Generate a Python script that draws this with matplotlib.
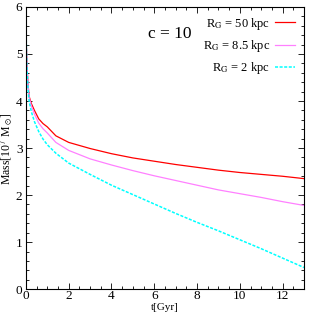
import numpy as np
import matplotlib
matplotlib.use("Agg")
import matplotlib.pyplot as plt
from matplotlib.ticker import MultipleLocator

plt.rcParams['font.family'] = ['Liberation Serif', 'DejaVu Serif']
plt.rcParams['mathtext.fontset'] = 'stix'

# time in Gyr, mass in 10^7 Msun
t = [0, 0.02, 0.05, 0.1, 0.15, 0.25, 0.4, 0.6, 0.8, 1.0, 1.4, 2,
     3, 4, 5, 6, 7, 8, 9, 10, 11, 12, 13]
mass_50 = [5.7, 5.2, 4.75, 4.35, 4.1, 3.95, 3.8, 3.62, 3.52, 3.45, 3.26, 3.12,
           2.99, 2.88, 2.79, 2.72, 2.65, 2.59, 2.53, 2.48, 2.44, 2.40, 2.35]
mass_85 = [5.7, 5.2, 4.75, 4.33, 4.08, 3.9, 3.72, 3.53, 3.41, 3.32, 3.12, 2.95,
           2.77, 2.64, 2.52, 2.41, 2.31, 2.21, 2.11, 2.03, 1.95, 1.86, 1.78]
mass_2 = [5.7, 5.2, 4.7, 4.25, 4.0, 3.78, 3.56, 3.35, 3.19, 3.07, 2.89, 2.68,
          2.44, 2.21, 2.01, 1.81, 1.61, 1.42, 1.24, 1.05, 0.86, 0.66, 0.46]

fig = plt.figure(figsize=(3.16, 3.16), dpi=100)
ax = fig.add_axes([0.082, 0.085, 0.880, 0.893])

ax.plot(t, mass_50, color='#ff0000', lw=0.9, label=r'R$_{\rm G}$ = 50 kpc')
ax.plot(t, mass_85, color='#ff80ff', lw=0.9, label=r'R$_{\rm G}$ = 8.5 kpc')
ax.plot(t, mass_2, color='#00ffff', lw=1.1, ls=(0, (2, 1)),
        label=r'R$_{\rm G}$ = 2 kpc')

ax.set_xlim(0, 13)
ax.set_ylim(0, 6)
ax.xaxis.set_major_locator(MultipleLocator(2))
ax.xaxis.set_minor_locator(MultipleLocator(0.5))
ax.yaxis.set_major_locator(MultipleLocator(1))
ax.yaxis.set_minor_locator(MultipleLocator(0.2))
ax.tick_params(which='both', direction='in', top=True, right=True,
               labelsize=9.5, width=0.6)
ax.tick_params(axis='x', pad=0.5)
ax.tick_params(axis='y', pad=2.5)
ax.tick_params(which='major', length=4)
ax.tick_params(which='minor', length=2)
for s in ax.spines.values():
    s.set_linewidth(0.8)

ax.set_xlabel('t[Gyr]', fontsize=8, labelpad=0.5)
ax.set_ylabel(r'Mass[10$^7$ M$_\odot$]', fontsize=8.5, labelpad=0.5)

ax.text(0.44, 0.905, 'c = 10', transform=ax.transAxes, fontsize=12.5,
        ha='left', va='center')

ax.legend(loc='upper right', frameon=False, markerfirst=False, fontsize=9,
          handlelength=1.6, handletextpad=0.4, labelspacing=0.5,
          borderaxespad=0.3)

fig.savefig('out.png', dpi=100)
